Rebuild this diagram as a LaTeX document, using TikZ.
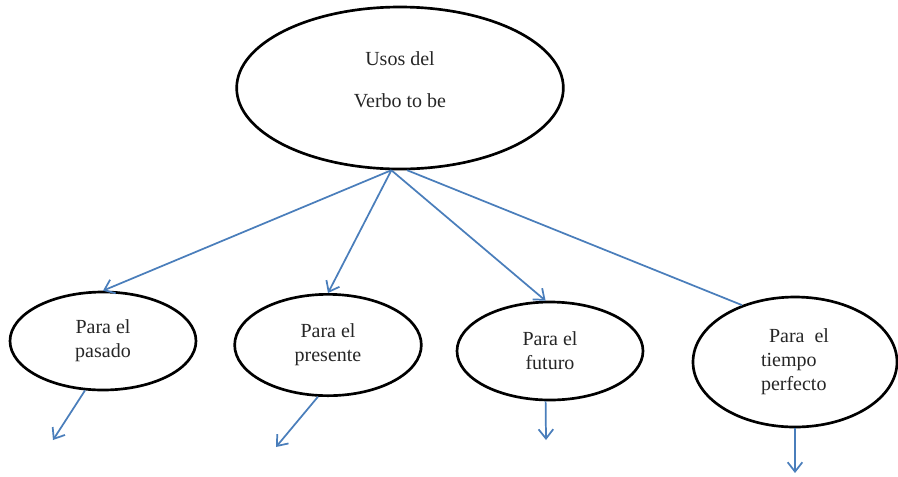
\documentclass[tikz,border=0pt]{standalone}
\usepackage{fontspec}
\setmainfont{Liberation Serif}
\usepackage{tikz}
\usetikzlibrary{arrows.meta,shapes.geometric}
\definecolor{linkblue}{RGB}{74,126,187}

\begin{document}
\begin{tikzpicture}[x=0.75pt,y=-0.75pt]
    \tikzset{bubble/.style = {shape=ellipse, draw, line width=2pt, inner sep=0pt, align=center, font=\fontsize{15}{18}\selectfont, text=black!85}}
    \tikzset{link/.style = {draw=linkblue, line width=1.3pt, -{Straight Barb[length=7pt,width=11pt]}}}

    \useasboundingbox (0,0) rectangle (898,476);

    % vertices
    \node[bubble, minimum width=245pt, minimum height=121.5pt] (usos) at (400,88) {Usos del\\[13.5pt]Verbo to be\\[-5pt]\mbox{}};
    \node[bubble, minimum width=139.5pt, minimum height=73.5pt] (pasado) at (103,341) {Para el\\pasado};
    \node[bubble, minimum width=140pt, minimum height=76pt] (presente) at (328,345) {Para el\\presente};
    \node[bubble, minimum width=139.5pt, minimum height=73.5pt] (futuro) at (550,351) {Para el\\futuro};
    \node[bubble, minimum width=153pt, minimum height=97.5pt, align=left] (perfecto) at (795,362) {\hspace{6pt}Para\ \ el\\tiempo\\perfecto};

    % loose ends
    \coordinate (endpasado) at (53,440);
    \coordinate (endpresente) at (276,447);
    \coordinate (endfuturo) at (546,440);
    \coordinate (endperfecto) at (795,473);

    % edges
    \draw [link] (usos.264) -- (pasado.north);
    \draw [link] (usos.264) -- (presente.north);
    \draw [link] (usos.264) -- (futuro.95);
    \draw [link, -] (usos.275) -- (perfecto.133);

    \draw [link] (pasado.250) -- (endpasado);
    \draw [link] (presente.259) -- (endpresente);
    \draw [link] (futuro.265) -- (endfuturo);
    \draw [link] (perfecto.south) -- (endperfecto);
\end{tikzpicture}
\end{document}
